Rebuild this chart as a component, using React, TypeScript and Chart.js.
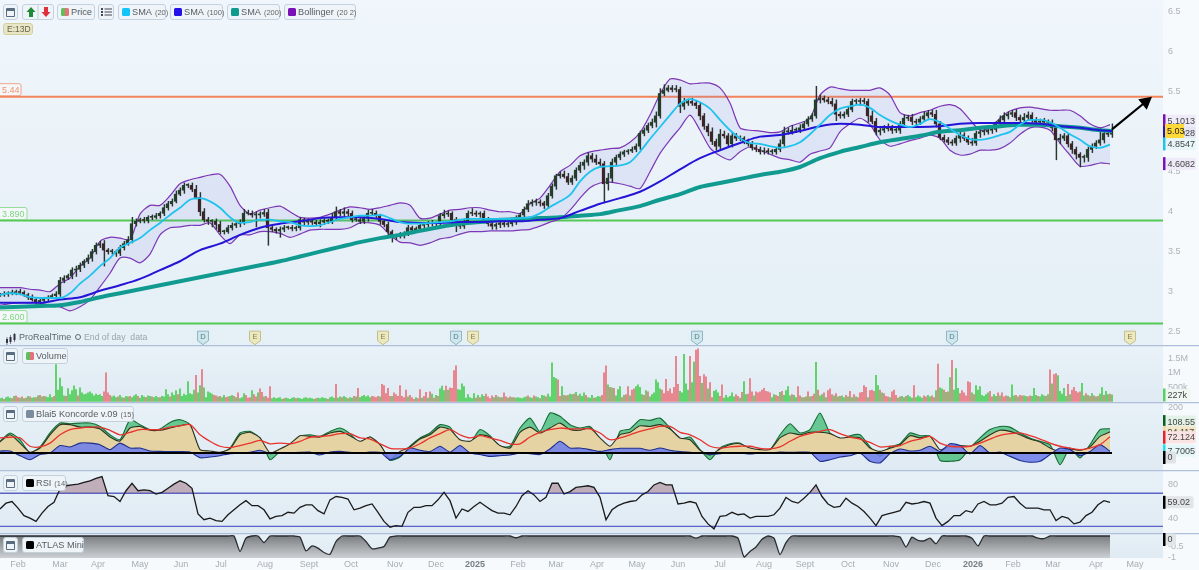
import React, { useEffect, useRef } from "react";
import { Chart, registerables } from "chart.js";
Chart.register(...registerables);

const FONT = "'Liberation Sans', Arial, sans-serif";
const LAST_BAR = 556;
const AXIS_END = 581.5;

const monthLabels = ["Feb","Mar","Apr","May","Jun","Jul","Aug","Sept","Oct","Nov","Dec","2025","Feb","Mar","Apr","May","Jun","Jul","Aug","Sept","Oct","Nov","Dec","2026","Feb","Mar","Apr","May"];
const monthBars = [9,30,49,70,90.5,110.5,132.5,154.5,175.5,197.5,218,237.5,259,278,298.5,318.5,339,360,382,402.5,424,445.5,466.5,486.5,506.5,526.5,548,567.5];

const priceTicks = [6.5,6,5.5,5,4.5,4,3.5,3,2.5];
const levels = [5.44,3.89,2.6];
const levelLabels = ["5.44","3.890","2.600"];
const eventBars = [101.5,127.5,191.5,228,236.5,348.5,476,565];
const eventKinds = ["D","E","E","D","E","D","D","E"];

// closes, one every 2 trading days
const closes = [
2.96,2.97,2.98,2.98,3.0,2.99,2.96,2.93,2.90,2.87,2.89,2.91,2.93,2.95,2.97,3.14,3.17,3.2,3.27,3.28,3.33,3.38,3.42,3.5,3.58,
3.6,3.52,3.5,3.5,3.48,3.55,3.6,3.65,3.85,3.88,3.9,3.89,3.93,3.93,3.95,3.98,4.05,4.1,4.13,4.22,4.27,4.33,4.33,4.28,4.18,
4.0,3.9,3.88,3.88,3.84,3.75,3.75,3.8,3.83,3.85,3.87,3.98,3.98,3.96,3.96,3.97,3.99,3.8,3.78,3.76,3.78,3.8,3.8,3.79,3.8,
3.9,3.87,3.88,3.87,3.85,3.87,3.89,3.88,3.93,4.0,3.98,4.0,3.98,3.9,3.9,3.88,3.92,3.98,3.98,3.95,3.88,3.84,3.75,3.7,3.7,
3.71,3.73,3.8,3.77,3.79,3.83,3.84,3.86,3.85,3.85,3.95,3.97,3.98,3.9,3.85,3.82,3.88,3.98,3.98,3.97,3.98,3.88,3.85,3.82,3.84,
3.86,3.84,3.85,3.87,3.92,3.96,4.03,4.1,4.12,4.12,4.11,4.08,4.2,4.32,4.45,4.47,4.44,4.37,4.42,4.52,4.58,4.62,4.7,4.66,4.62,
4.6,4.35,4.42,4.62,4.68,4.72,4.75,4.76,4.78,4.82,4.98,5.02,5.08,5.12,5.2,5.48,5.52,5.55,5.53,5.53,5.32,5.36,5.38,5.36,5.33,
5.2,5.07,5.0,4.88,4.82,4.97,4.95,4.85,4.95,4.92,4.92,4.88,4.85,4.8,4.78,4.75,4.76,4.75,4.75,4.78,4.85,5.0,5.0,5.02,5.02,
5.05,5.1,5.16,5.2,5.4,5.42,5.4,5.38,5.35,5.22,5.2,5.22,5.28,5.38,5.38,5.39,5.38,5.2,5.13,5.0,
5.02,5.04,5.05,5.02,5.02,5.1,5.17,5.18,5.13,5.12,5.16,5.2,5.24,5.22,5.1,4.93,4.9,4.87,4.86,4.92,4.96,4.92,4.87,4.86,4.98,
5.0,5.0,5.02,5.03,5.1,5.15,5.2,5.22,5.24,5.18,5.15,5.18,5.21,5.15,5.12,5.13,5.12,5.12,5.05,4.9,4.92,4.95,4.85,4.78,4.72,
4.68,4.68,4.78,4.82,4.86,4.9,4.98,4.97,5.03];
const wickUp = [
2,3,2,4,2,3,2,2,3,2,3,2,2,2,3,4,3,2,3,4,3,2,4,3,3,
3,4,2,3,2,3,3,4,8,3,2,3,2,3,3,2,4,3,3,4,3,3,2,3,5,
6,4,3,2,3,4,2,3,3,2,3,5,4,3,4,3,4,4,3,2,3,3,2,3,2,
3,2,3,2,2,3,2,2,5,6,3,5,3,3,2,3,2,4,5,3,2,2,3,2,2,
3,2,3,2,2,3,2,2,3,2,3,5,3,2,3,2,3,3,6,3,2,3,5,3,2,
2,3,2,3,3,2,3,4,3,4,3,2,3,3,2,3,4,4,3,3,4,3,4,3,5,
4,3,6,4,3,3,2,2,3,3,3,3,3,4,5,6,7,3,3,5,3,6,3,4,3,
4,3,3,5,3,6,4,3,4,3,3,2,3,3,3,3,4,3,3,2,5,6,5,6,3,
4,3,3,3,17,4,3,3,4,5,3,3,4,3,3,3,3,3,6,4,3,4,5,3,3,
3,4,3,4,3,3,5,3,3,5,3,3,3,3,3,4,3,3,5,3,4,5,6,5,3,
5,4,3,3,4,3,5,4,3,3,3,4,3,3,4,5,3,3,3,3,2,3,3,3,3,
15,3,3,7];
const wickDown = [
2,2,3,2,2,3,2,3,2,3,2,2,3,2,2,3,3,2,4,8,3,3,3,4,3,
3,20,3,3,4,3,3,2,4,3,2,3,3,3,2,3,3,3,3,2,2,4,3,3,2,
5,3,4,7,6,3,3,2,3,3,4,3,2,3,15,4,3,22,3,3,8,3,2,3,3,
3,4,3,3,2,4,3,3,3,3,3,4,3,3,2,3,3,4,3,3,4,3,4,8,5,
3,4,3,2,3,3,3,3,3,3,3,3,3,4,10,3,3,3,3,3,4,2,3,4,4,
4,3,3,3,3,3,5,3,3,4,4,4,4,3,4,3,2,3,3,3,3,5,4,4,3,
4,24,8,5,3,3,3,3,2,3,4,3,3,3,6,3,3,2,3,3,8,4,3,3,4,
5,4,5,4,5,3,3,3,4,3,3,3,3,3,3,3,3,3,3,3,3,3,3,3,3,
3,3,3,3,3,4,3,3,3,8,3,3,3,3,3,5,3,8,3,4,4,3,3,4,3,
4,3,3,4,5,3,3,3,3,4,3,3,3,3,3,5,3,3,3,3,5,4,3,4,3,
3,3,4,3,4,3,5,3,3,4,3,3,4,4,25,5,3,4,5,6,12,6,5,4,3,
3,4,3,4];

// every 10 trading days
const sma200 = [2.80,2.81,2.82,2.83,2.87,2.93,2.98,3.03,3.08,3.13,3.18,3.23,3.28,3.33,3.38,3.44,3.50,3.56,3.62,3.67,3.71,3.76,3.81,3.85,3.87,3.90,3.91,3.92,3.93,3.95,3.97,4.02,4.07,4.15,4.22,4.31,4.36,4.41,4.46,4.50,4.56,4.67,4.75,4.81,4.87,4.91,4.95,5.0,5.02,5.05,5.07,5.09,5.09,5.07,5.05,5.02,5.01];
const sma100 = [2.86,2.86,2.86,2.90,2.93,3.01,3.08,3.16,3.27,3.38,3.52,3.60,3.71,3.80,3.85,3.88,3.92,3.93,3.93,3.91,3.87,3.86,3.86,3.87,3.87,3.88,3.88,3.90,3.92,4.01,4.10,4.17,4.25,4.38,4.53,4.67,4.77,4.86,4.94,4.96,5.01,5.07,5.10,5.09,5.06,5.06,5.06,5.07,5.10,5.11,5.11,5.11,5.10,5.07,5.05,5.02,5.01];
// every 5 trading days
const sma20 = [2.96,2.98,2.97,2.93,2.92,2.92,2.92,2.98,3.10,3.20,3.32,3.42,3.55,3.61,3.67,3.77,3.86,3.96,4.05,4.15,4.17,4.13,4.05,3.93,3.86,3.87,3.90,3.90,3.88,3.87,3.83,3.82,3.83,3.87,3.91,3.93,3.95,3.95,3.96,3.92,3.87,
3.85,3.85,3.86,3.87,3.88,3.90,3.91,3.91,3.91,3.91,3.91,3.92,3.93,3.98,4.06,4.13,4.21,4.38,4.50,4.56,4.57,4.58,4.62,4.75,4.91,5.06,5.21,5.35,5.41,5.37,5.29,5.15,5.02,4.92,4.86,4.85,4.82,4.80,4.82,4.87,
4.97,5.09,5.21,5.29,5.32,5.34,5.30,5.21,5.14,5.09,5.06,5.10,5.16,5.12,5.04,4.96,4.91,4.90,4.92,4.96,5.0,5.09,5.15,5.15,5.12,5.05,4.97,4.90,4.82,4.80,4.84];
const bollUpper = [3.05,3.05,3.05,3.03,3.02,3.0,3.10,3.17,3.32,3.42,3.63,3.68,3.67,3.65,3.97,4.08,4.08,4.20,4.35,4.40,4.43,4.46,4.47,4.32,4.08,3.97,4.02,4.05,4.07,4.0,3.93,3.92,3.93,3.97,4.02,4.06,4.05,4.03,4.05,4.08,4.11,
4.08,3.92,3.92,3.97,4.02,4.03,4.05,4.05,4.02,4.0,4.0,3.98,4.10,4.17,4.33,4.50,4.58,4.70,4.75,4.77,4.79,4.80,4.87,4.99,5.21,5.47,5.66,5.65,5.60,5.61,5.61,5.55,5.36,5.05,5.02,5.01,4.99,5.0,5.07,5.11,
5.17,5.46,5.56,5.54,5.52,5.52,5.52,5.55,5.46,5.24,5.20,5.24,5.27,5.32,5.34,5.29,5.15,5.02,5.05,5.17,5.26,5.30,5.31,5.29,5.27,5.27,5.27,5.20,5.10,5.05,5.09];
const bollLower = [2.83,2.85,2.86,2.86,2.86,2.83,2.81,2.76,2.81,2.90,3.06,3.23,3.42,3.42,3.36,3.47,3.71,3.80,3.81,3.83,3.83,3.86,3.71,3.60,3.71,3.71,3.75,3.75,3.73,3.68,3.72,3.77,3.78,3.78,3.78,3.80,3.86,3.86,3.83,3.71,3.62,
3.61,3.58,3.61,3.66,3.68,3.72,3.75,3.75,3.76,3.76,3.76,3.77,3.78,3.82,3.87,3.91,4.02,4.17,4.30,4.36,4.37,4.35,4.32,4.29,4.50,4.73,4.90,5.05,5.21,5.02,4.80,4.70,4.65,4.75,4.81,4.77,4.72,4.67,4.65,4.62,
4.72,4.76,4.80,5.0,5.10,5.17,5.09,4.90,4.82,4.85,4.89,4.92,4.96,4.92,4.77,4.71,4.72,4.77,4.77,4.79,4.86,4.97,5.05,5.06,5.02,4.86,4.71,4.57,4.58,4.61,4.60];

// volume in tens of thousands; negative = down day, one per trading day
const volume10k = [
10,12,-8,14,16,12,-10,18,-20,-14,12,-16,10,-12,18,-16,12,14,-14,20,-22,16,-18,16,14,24,14,-18,129,40,82,52,20,-18,45,24,38,55,42,-20,48,30,24,26,30,34,28,20,26,22,
24,18,-34,-100,-30,-22,16,20,14,-16,22,14,-12,18,16,-18,14,20,24,-18,12,22,16,-14,20,18,-16,14,18,14,-14,18,16,42,24,-16,30,22,38,-24,44,18,26,22,70,28,24,40,-92,30,
56,-112,48,14,34,30,26,-22,-20,16,-18,14,22,-14,-16,18,22,-18,14,-30,10,14,28,-22,-12,-14,38,-24,-16,30,-44,-32,16,-18,-12,-52,10,14,10,12,14,8,-10,12,10,8,12,14,-10,12,
10,8,12,14,10,12,10,8,-10,12,10,14,12,10,-8,14,16,12,-60,12,16,-14,18,14,-10,14,12,-18,16,-46,14,18,22,16,20,14,-18,-16,-14,-18,16,-60,-56,-28,-46,-18,18,-30,-24,-18,
-56,-18,-14,-40,16,-22,-14,-8,14,-10,-42,12,-18,-32,12,-34,26,-12,22,-18,44,54,38,-54,40,-48,-46,-108,-125,42,40,62,52,12,24,14,10,28,-12,22,-14,24,18,-26,-16,-10,-20,14,-22,16,
-14,14,-30,-16,12,-16,14,-14,12,14,12,10,14,16,-20,14,12,-20,16,14,-10,22,20,-16,26,16,135,85,80,-76,-18,52,-22,20,-22,26,24,-26,32,-20,26,18,30,-22,14,12,22,-12,14,18,
16,-22,-100,-125,58,-50,48,-46,20,42,52,-14,22,-24,-52,20,-40,-44,52,58,50,24,-22,38,-34,16,24,30,76,66,44,-40,-28,-78,-36,-44,-28,-50,-158,-60,36,30,165,62,40,-158,66,138,-180,-184,
-88,64,-94,-86,44,-66,-14,36,40,30,-18,-58,12,22,14,18,30,16,-24,-18,12,-32,70,24,-26,-80,-34,20,-34,-30,-34,-40,-46,-36,-34,-30,14,24,-22,-18,32,-36,22,38,52,20,-24,22,14,-52,
-20,14,-14,16,-34,16,-18,-26,137,-40,20,24,-30,14,-38,-44,-24,20,-28,16,-18,20,14,-22,16,-36,14,-24,16,-14,-30,-32,-56,-50,14,-38,-40,-36,92,56,-40,30,-28,-18,-16,14,-34,-40,-22,12,
-16,18,14,-18,22,16,12,-56,14,20,16,12,-20,-16,22,16,-20,-14,38,-131,48,44,-40,32,-34,84,-144,40,115,46,-28,-38,-30,-20,-70,-66,30,-24,56,40,52,22,18,24,30,-36,-16,24,18,-30,
20,-30,-16,-20,18,-14,58,20,-22,16,-22,-20,20,18,-16,-20,18,46,22,-18,16,24,20,-18,24,-111,62,-94,-98,91,36,26,46,18,-60,24,-40,-50,-36,-30,-34,64,20,-28,22,-18,28,-20,16,-18,26,49,-22,36,24,-26,23];

// Koncorde, every 5 trading days
const konGreen = [52,89,59,0,27,89,133,130,133,133,118,81,59,148,126,104,107,136,148,126,7,4,0,22,89,96,67,-30,7,30,74,81,74,96,111,86,44,71,37,-33,
-18,30,67,89,126,115,44,44,104,77,30,30,111,155,96,178,163,126,111,118,59,-30,96,107,148,145,155,111,62,71,15,-30,22,
41,44,12,9,15,81,130,89,104,178,89,59,77,81,27,-15,27,41,89,77,74,-33,-37,-30,22,67,104,118,115,89,67,52,37,-52,22,-22,37,104,108];
const konBrown = [49,81,44,3,22,81,126,126,115,115,107,71,53,111,118,101,101,111,121,126,15,9,3,18,81,92,67,0,18,41,77,74,71,89,96,77,52,71,37,-27,
7,27,62,81,115,104,59,52,81,71,33,22,92,115,89,111,133,104,101,111,67,30,81,92,121,118,126,107,67,59,12,-9,18,
37,41,22,15,15,67,89,81,92,92,86,67,71,67,22,7,21,37,77,67,74,15,30,33,30,52,81,101,96,81,62,49,22,7,18,12,27,74,94];
const konBlue = [9,9,-12,-30,-7,0,33,27,44,44,37,15,44,22,22,9,7,6,6,4,-21,-18,-12,-3,0,3,12,-3,0,0,3,4,-9,4,7,3,0,4,3,-30,
-15,22,12,6,30,4,33,0,-7,-15,-12,-9,0,-3,-7,18,52,22,22,15,7,15,21,21,21,12,22,12,6,3,0,-6,-3,
0,0,-4,0,0,4,3,4,3,-37,-30,-18,-12,0,-37,-44,-3,18,9,12,30,7,41,33,-4,33,0,4,-15,-33,-41,-37,-7,22,15,-12,7,37,8];
const konRed = [67,70,67,30,27,44,81,104,111,115,115,101,81,92,104,104,104,115,121,126,81,52,30,24,33,44,56,41,44,41,52,70,74,77,86,86,67,62,41,21,
18,22,41,67,86,104,81,67,77,67,56,41,41,71,92,104,111,107,107,107,89,59,67,81,96,107,118,118,92,81,59,30,22,
27,30,30,21,18,27,52,74,86,96,104,86,71,62,47,27,30,33,52,62,74,44,30,27,30,44,62,78,86,89,77,62,44,30,22,15,22,37,72];

// RSI, every 3 trading days
const rsi = [51,58,60,52,43,40,36,46,54,59,75,79,80,81,83,85,88,90,67,66,60,73,82,73,74,73,69,71,76,81,85,82,76,45,38,40,37,36,44,50,56,61,55,55,50,39,42,43,47,46,53,56,56,49,45,62,66,65,63,50,52,55,57,47,36,29,31,
30,47,53,53,55,55,62,71,61,40,51,48,54,59,54,49,46,46,44,54,67,73,68,60,65,82,82,69,72,77,78,79,77,65,38,50,55,58,60,61,68,72,80,83,80,80,57,58,60,58,42,33,27,42,43,47,44,45,40,42,42,42,44,52,65,60,58,
64,71,80,66,57,53,54,64,58,54,48,40,31,43,45,47,49,59,57,58,60,58,40,31,36,43,43,49,47,57,60,56,56,58,
65,66,58,52,52,52,50,50,37,42,40,33,35,43,47,56,61,59];
const rsiBands = [70,30];

// ATLAS Mini, every 3 trading days
const atlas = [0,0,0,0,0,0,0,0,0,0,0,0,0,0,0,0,0,0,0,0,0,0,0,0,0,0,0,0,0,0,0,0,0,0,0,0,0,0,0,0,
-0.7,-0.1,0,0,-0.3,0,0,0,0,0,-0.05,-0.68,-0.45,-0.55,-0.75,-0.83,-0.25,0,0,0,0,-0.25,-0.58,-0.55,-0.48,-0.05,0,
0,0,0,0,0,0,0,0,0,0,0,0,0,0,0,0,0,0,0,-0.08,
0,0,0,0,0,0,0,0,0,0,0,0,0,0,0,0,0,0,0,0,0,0,0,0,0,0,0,0,0,-0.1,
0,0,0,0,0,0,-0.1,-0.95,-0.7,-0.5,-0.15,0,-0.1,-0.85,-0.3,
0,0,0,0,0,0,0,0,0,0,0,0,0,0,0,0,0,0,-0.05,-0.5,-0.05,-0.2,-0.22,-0.1,-0.35,
0,0,0,0,0,-0.1,-0.45,0,0,0,0,0,0,0,0,0,-0.1,-0.12,0,0,0,0,0,0,0,0,0,0,0];

const series = (values: number[], step: number) =>
  values.map((y, i) => ({ x: Math.min(i * step, LAST_BAR), y }));
const hline = (y: number, to = AXIS_END) => [{ x: 0, y }, { x: to, y }];

const zeroPad = (s: any) => { s.paddingTop = 0; s.paddingBottom = 0; s.paddingLeft = 0; s.paddingRight = 0; };

const rightAxis = (min: number, max: number, ticks: number[], fmt: (v: number) => string) => ({
  type: "linear", position: "right", min, max,
  afterBuildTicks: (s: any) => { s.ticks = ticks.map((value) => ({ value })); },
  afterFit: (s: any) => { s.width = 36; zeroPad(s); },
  ticks: { color: "#aab3bb", font: { size: 9, family: FONT }, padding: 5, autoSkip: false, maxRotation: 0, callback: (v: any) => fmt(Number(v)) },
  grid: { display: false, drawTicks: false }, border: { display: false },
});

const hiddenX = {
  type: "linear", min: 0, max: AXIS_END, offset: false, display: false, grid: { offset: false },
};

const paneBg = (top: string, bottom: string, sep: boolean) => ({
  id: "paneBg",
  beforeDraw(chart: any) {
    const { ctx, chartArea: a, width, height } = chart;
    ctx.save();
    ctx.fillStyle = "#f7fafc";
    ctx.fillRect(0, 0, width, height);
    const g = ctx.createLinearGradient(0, a.top, 0, a.bottom);
    g.addColorStop(0, top); g.addColorStop(1, bottom);
    ctx.fillStyle = g;
    ctx.fillRect(a.left, a.top, a.right - a.left, a.bottom - a.top);
    ctx.restore();
  },
  afterDraw(chart: any) {
    if (!sep) return;
    const { ctx, width } = chart;
    ctx.save();
    ctx.strokeStyle = "#aebfdc"; ctx.lineWidth = 1.2;
    ctx.beginPath(); ctx.moveTo(0, 0.6); ctx.lineTo(width, 0.6); ctx.stroke();
    ctx.restore();
  },
});

function drawTag(ctx: any, y: number, text: string, bar: string, bg: string, fg = "#444") {
  const x = 1163, h = 12;
  ctx.font = `9px ${FONT}`;
  const wide = Math.min(33, ctx.measureText(text).width + 8);
  ctx.fillStyle = bg;
  ctx.beginPath(); ctx.roundRect(x, y - h / 2, wide, h, 2); ctx.fill();
  ctx.fillStyle = bar;
  ctx.fillRect(x, y - h / 2 - 0.5, 2.5, h + 1);
  ctx.fillStyle = fg;
  ctx.textAlign = "left"; ctx.textBaseline = "middle";
  ctx.fillText(text, x + 4.5, y + 0.5);
}

const tagsPlugin = (scaleId: string, tags: [number, number, string, string, string][]) => ({
  id: "tags",
  afterDraw(chart: any) {
    const { ctx } = chart;
    const s = chart.scales[scaleId];
    ctx.save();
    for (const [v, dy, text, bar, bg] of tags) drawTag(ctx, s.getPixelForValue(v) + dy, text, bar, bg);
    ctx.restore();
  },
});

const priceExtras = {
  id: "priceExtras",
  afterDraw(chart: any) {
    const { ctx } = chart;
    const X = chart.scales.x, Y = chart.scales.y;
    ctx.save();
    const x0 = X.getPixelForValue(LAST_BAR), y0 = Y.getPixelForValue(5.03);
    const x1 = X.getPixelForValue(576), y1 = Y.getPixelForValue(5.44);
    const ang = Math.atan2(y1 - y0, x1 - x0);
    ctx.strokeStyle = "#000"; ctx.fillStyle = "#000"; ctx.lineWidth = 2.2;
    ctx.beginPath(); ctx.moveTo(x0, y0); ctx.lineTo(x1 - 8 * Math.cos(ang), y1 - 8 * Math.sin(ang)); ctx.stroke();
    ctx.beginPath(); ctx.moveTo(x1, y1);
    ctx.lineTo(x1 - 14 * Math.cos(ang - 0.5), y1 - 14 * Math.sin(ang - 0.5));
    ctx.lineTo(x1 - 14 * Math.cos(ang + 0.5), y1 - 14 * Math.sin(ang + 0.5));
    ctx.closePath(); ctx.fill();
    const colors = ["#f4916a", "#7fd67f", "#7fd67f"];
    ctx.font = `9px ${FONT}`; ctx.textBaseline = "middle"; ctx.textAlign = "left";
    levels.forEach((lv, i) => {
      const y = Y.getPixelForValue(lv);
      const w = levelLabels[i].length > 4 ? 27 : 21;
      ctx.fillStyle = "#f4f8fb"; ctx.strokeStyle = colors[i]; ctx.lineWidth = 0.8;
      ctx.beginPath(); ctx.roundRect(-2, y - 13, w + 2, 12, 2); ctx.fill(); ctx.stroke();
      ctx.fillStyle = colors[i];
      ctx.fillText(levelLabels[i], 2, y - 6.5);
    });
    const yM = Y.getPixelForValue(2.43);
    eventBars.forEach((b, i) => {
      const x = X.getPixelForValue(b);
      const d = eventKinds[i] === "D";
      ctx.fillStyle = d ? "#cfe6ea" : "#ece8bf";
      ctx.strokeStyle = d ? "#8db6c6" : "#c5c08a";
      ctx.lineWidth = 1;
      ctx.beginPath();
      ctx.moveTo(x - 5.5, yM - 6); ctx.lineTo(x + 5.5, yM - 6); ctx.lineTo(x + 5.5, yM + 3.5);
      ctx.lineTo(x, yM + 7.5); ctx.lineTo(x - 5.5, yM + 3.5); ctx.closePath();
      ctx.fill(); ctx.stroke();
      ctx.fillStyle = d ? "#4e7f8f" : "#85814a";
      ctx.font = `7.5px ${FONT}`; ctx.textAlign = "center"; ctx.textBaseline = "middle";
      ctx.fillText(eventKinds[i], x, yM - 0.5);
    });
    ctx.restore();
  },
};

const lineDs = (label: string, data: any[], color: string, width: number, extra: any = {}) => ({
  type: "line", label, data, borderColor: color, borderWidth: width, pointRadius: 0, tension: 0, fill: false, ...extra,
});

function buildPrice() {
  const opens = closes.map((c, i) => (i === 0 ? c : closes[i - 1]));
  const wicks = closes.map((c, i) => ({
    x: Math.min(i * 2, LAST_BAR),
    y: [Math.min(c, opens[i]) - wickDown[i] / 100, Math.max(c, opens[i]) + wickUp[i] / 100],
  }));
  const bodies = closes.map((c, i) => ({ x: Math.min(i * 2, LAST_BAR), y: [opens[i], c] }));
  const bodyColors = closes.map((c, i) => (c >= opens[i] ? "#24402a" : "#3f2226"));
  return {
    data: {
      datasets: [
        lineDs("5.44", hline(levels[0]), "#f4845a", 2, { order: 9 }),
        lineDs("3.89", hline(levels[1]), "#55c955", 2, { order: 9 }),
        lineDs("2.60", hline(levels[2]), "#55c955", 2, { order: 9 }),
        lineDs("Bollinger upper", series(bollUpper, 5), "#7d35b5", 1.2, { tension: 0.25, order: 8, fill: "+1", backgroundColor: "rgba(120,120,225,0.12)" }),
        lineDs("Bollinger lower", series(bollLower, 5), "#7d35b5", 1.2, { tension: 0.25, order: 8 }),
        { type: "bar", label: "wick", data: wicks, backgroundColor: "#2a3430", barThickness: 0.8, order: 5 },
        { type: "bar", label: "body", data: bodies, backgroundColor: bodyColors, barThickness: 1.8, minBarLength: 1, order: 4 },
        lineDs("SMA 200", series(sma200, 10), "#109a90", 4, { cubicInterpolationMode: "monotone", order: 3 }),
        lineDs("SMA 100", series(sma100, 10), "#2414d8", 2, { cubicInterpolationMode: "monotone", order: 2 }),
        lineDs("SMA 20", series(sma20, 5), "#1ec3ee", 1.8, { cubicInterpolationMode: "monotone", order: 1 }),
      ],
    },
    scales: {
      x: hiddenX,
      y: rightAxis(2.332, 6.65, priceTicks, (v) => String(v)),
    },
    plugins: [
      paneBg("#f0f6fb", "#e4eff6", false),
      priceExtras,
      tagsPlugin("y", [
        [5.1013, -3, "5.1013", "#7a10b8", "#efeaf7"],
        [5.0028, 1, "5.0028", "#2414d8", "#e4e6f4"],
        [4.8547, 0.5, "4.8547", "#1ec3ee", "#e8f6fa"],
        [4.6082, 0.5, "4.6082", "#7a10b8", "#efeaf7"],
      ]),
      {
        id: "lastPrice",
        afterDraw(chart: any) {
          const { ctx } = chart;
          const y = chart.scales.y.getPixelForValue(closes[closes.length - 1]) + 1.6;
          ctx.save();
          ctx.fillStyle = "#ffd83a";
          ctx.fillRect(1165, y - 7, 19, 14);
          ctx.fillStyle = "#222"; ctx.font = `9px ${FONT}`;
          ctx.textAlign = "left"; ctx.textBaseline = "middle";
          ctx.fillText(String(closes[closes.length - 1]), 1167, y + 0.5);
          ctx.restore();
        },
      },
    ],
  };
}

function buildVolume() {
  const bars = volume10k.map((v, i) => ({ x: i, y: Math.abs(v) }));
  const colors = volume10k.map((v) => (v >= 0 ? "#58d162" : "#e87f88"));
  return {
    data: { datasets: [{ type: "bar", label: "Volume", data: bars, backgroundColor: colors, barThickness: 1.2 }] },
    scales: {
      x: hiddenX,
      y: rightAxis(-1.75, 197.7, [50, 100, 150], (v) => (v >= 100 ? `${v / 100}M` : `${v * 10}k`)),
    },
    plugins: [
      paneBg("#e9f2f8", "#dfeaf3", true),
      tagsPlugin("y", [[22.7, 0, "227k", "#58d162", "#eef7f0"]]),
    ],
  };
}

function buildKoncorde() {
  const area = (label: string, vals: number[], stroke: string, fillColor: string, order: number) =>
    lineDs(label, series(vals, 5), stroke, 1.1, { tension: 0.2, order, fill: { target: { value: 0 } }, backgroundColor: fillColor });
  return {
    data: {
      datasets: [
        area("green", konGreen, "#166b34", "rgba(72,190,122,0.8)", 5),
        area("brown", konBrown, "#2c3320", "#e6d3a4", 4),
        area("blue", konBlue, "#1d2f8c", "rgba(112,128,235,0.88)", 3),
        lineDs("red", series(konRed, 5), "#e8322c", 1.3, { tension: 0.3, order: 2 }),
        lineDs("zero", hline(0, LAST_BAR), "#000", 1.8, { order: 1 }),
      ],
    },
    scales: {
      x: hiddenX,
      y: rightAxis(-75.6, 226.7, [200], (v) => String(v)),
    },
    plugins: [
      paneBg("#e7f1f7", "#dfeaf3", true),
      tagsPlugin("y", [
        [108.55, -7, "108.55", "#0d5a22", "#e3f2e6"],
        [94.117, 0.5, "94.117", "#f0d9a8", "#f3e6c8"],
        [72.124, 0.5, "72.124", "#e8222c", "#fae3e3"],
        [7.7005, -0.5, "7.7005", "#22e0e6", "#e5f7f8"],
        [0, 4.5, "0", "#000", "#dfe3e6"],
      ]),
    ],
  };
}

function buildRsi() {
  return {
    data: {
      datasets: [
        lineDs("70", hline(rsiBands[0]), "#5a64c8", 1.4, { order: 2 }),
        lineDs("30", hline(rsiBands[1]), "#5a64c8", 1.4, { order: 2 }),
        lineDs("RSI", series(rsi, 3), "#1a1a1a", 1.3, {
          order: 1,
          fill: { target: { value: rsiBands[0] }, above: "rgba(140,85,105,0.42)", below: "rgba(0,0,0,0)" },
        }),
      ],
    },
    scales: {
      x: hiddenX,
      y: rightAxis(22, 98, [80, 40], (v) => String(v)),
    },
    plugins: [
      paneBg("#e7f1f7", "#dfeaf3", true),
      tagsPlugin("y", [[59.02, 0, "59.02", "#000", "#e2e5e7"]]),
    ],
  };
}

function buildAtlas() {
  return {
    data: {
      datasets: [
        lineDs("ATLAS", series(atlas, 3), "#2a2d30", 1.3, {
          fill: "start",
          tension: 0.2,
          backgroundColor: (c: any) => {
            const { ctx, chartArea } = c.chart;
            if (!chartArea) return "#999";
            const g = ctx.createLinearGradient(0, chartArea.top, 0, chartArea.bottom);
            g.addColorStop(0, "#6f7376"); g.addColorStop(1, "#ccd0d4");
            return g;
          },
        }),
      ],
    },
    scales: {
      x: {
        type: "linear", min: 0, max: AXIS_END, offset: false, position: "bottom",
        afterBuildTicks: (s: any) => { s.ticks = monthBars.map((value) => ({ value })); },
        afterFit: (s: any) => { s.height = 12; zeroPad(s); },
        grid: { display: false, drawTicks: false }, border: { display: false },
        ticks: {
          autoSkip: false, maxRotation: 0, padding: 1,
          callback: (_v: any, i: number) => monthLabels[i],
          color: (c: any) => (/^20/.test(String(c.tick?.label)) ? "#767e86" : "#a5aeb6"),
          font: (c: any) => ({ size: 9, family: FONT, weight: /^20/.test(String(c.tick?.label)) ? "bold" : "normal" }),
        },
      },
      y: rightAxis(-1, 0.136, [-0.5, -1], (v) => String(v)),
    },
    plugins: [
      paneBg("#e7f1f7", "#dfeaf3", true),
      tagsPlugin("y", [[0, 3.5, "0", "#000", "#e2e5e7"]]),
    ],
  };
}

const panes = [
  { top: 0, height: 345, build: buildPrice },
  { top: 345, height: 57, build: buildVolume },
  { top: 402, height: 68, build: buildKoncorde },
  { top: 470, height: 63, build: buildRsi },
  { top: 533, height: 37, build: buildAtlas },
];

const btn = (left: number, top: number, width: number, height = 16): React.CSSProperties => ({
  position: "absolute", left, top, width, height, boxSizing: "border-box",
  border: "1px solid #c3d1dc", borderRadius: 3, background: "#eef4f8",
  font: `9.2px ${FONT}`, color: "#565d63", display: "flex", alignItems: "center", paddingLeft: 3, whiteSpace: "nowrap", gap: 2,
});
const swatch = (color: any): React.CSSProperties => ({ width: 8, height: 8, background: color, borderRadius: 1.5, flex: "none" });
const small: React.CSSProperties = { fontSize: 7.5, color: "#666", marginLeft: 1 };

const WinIcon = ({ left, top }: { left: number; top: number }) => (
  <div style={{ ...btn(left, top, 15), paddingLeft: 2 }}>
    <div style={{ width: 9, height: 9, border: "1px solid #5a6d80", borderTop: "3px solid #5a6d80", borderRadius: 1, boxSizing: "border-box" }} />
  </div>
);

const Legend = ({ left, top, width, color, name, param }: any) => (
  <div style={btn(left, top, width)}>
    <span style={swatch(color)} />
    <span>{name}</span>
    {param ? <span style={small}>{param}</span> : null}
  </div>
);

export default function App() {
  const refs = useRef<(HTMLCanvasElement | null)[]>([]);
  useEffect(() => {
    const charts = panes.map((p, i) => {
      const cfg: any = p.build();
      return new Chart(refs.current[i] as HTMLCanvasElement, {
        type: "line",
        data: cfg.data,
        options: {
          animation: false,
          responsive: false,
          layout: { padding: 0 },
          plugins: { legend: { display: false }, tooltip: { enabled: false }, title: { display: false } },
          scales: cfg.scales,
        } as any,
        plugins: cfg.plugins,
      } as any);
    });
    return () => charts.forEach((c) => c.destroy());
  }, []);

  const half = "linear-gradient(90deg,#5fbf5f 50%,#e8707a 50%)";
  return (
    <div style={{ position: "fixed", left: 0, top: 0, width: 1199, height: 570, overflow: "hidden" }}>
      {panes.map((p, i) => (
        <canvas key={i} ref={(el) => { refs.current[i] = el; }} width={1199} height={p.height}
          style={{ position: "absolute", left: 0, top: p.top, display: "block", width: 1199, height: p.height }} />
      ))}
      <WinIcon left={3} top={4} />
      <div style={{ ...btn(22, 4, 32), padding: 0 }}>
        <svg width="30" height="14" viewBox="0 0 30 14">
          <path d="M8 2 L12.5 7 L10 7 L10 12 L6 12 L6 7 L3.5 7 Z" fill="#1f8a3a" />
          <line x1="15" y1="0" x2="15" y2="14" stroke="#c3d1dc" />
          <path d="M23 12 L18.5 7 L21 7 L21 2 L25 2 L25 7 L27.5 7 Z" fill="#e0303c" />
        </svg>
      </div>
      <div style={btn(57, 4, 38)}><span style={swatch(half)} /><span>Price</span></div>
      <div style={{ ...btn(98, 4, 16), paddingLeft: 2 }}>
        <svg width="11" height="10" viewBox="0 0 11 10"><path d="M0 1h2v2H0zM0 4h2v2H0zM0 7h2v2H0zM3.5 1.4H11v1.2H3.5zM3.5 4.4H11v1.2H3.5zM3.5 7.4H11v1.2H3.5z" fill="#445" /></svg>
      </div>
      <Legend left={118} top={4} width={48} color="#12c4f8" name="SMA" param="(20)" />
      <Legend left={170} top={4} width={53} color="#2410e8" name="SMA" param="(100)" />
      <Legend left={227} top={4} width={53} color="#0f9a90" name="SMA" param="(200)" />
      <Legend left={284} top={4} width={72} color="#7a10b8" name="Bollinger" param="(20 2)" />
      <div style={{ ...btn(3, 23, 30, 12), background: "#e8e6c4", borderColor: "#d2cf9e", fontSize: 8.5, color: "#66644a" }}>E:13D</div>

      <div style={{ position: "absolute", left: 5, top: 331, width: 12, height: 12 }}>
        <svg width="12" height="12" viewBox="0 0 12 12"><path d="M1 6h2v4H1zM4.5 4h2v5h-2zM8.5 1h2v6h-2z" fill="#334" /><path d="M2 4v8M5.5 2v9M9.5 0v9" stroke="#334" strokeWidth="0.6" /></svg>
      </div>
      <div style={{ position: "absolute", left: 19, top: 332, font: `9px ${FONT}`, color: "#5b6670", whiteSpace: "nowrap" }}>ProRealTime</div>
      <div style={{ position: "absolute", left: 75, top: 334, width: 6, height: 6, border: "1px solid #667", borderRadius: "50%", boxSizing: "border-box" }} />
      <div style={{ position: "absolute", left: 84, top: 332, font: `8.7px ${FONT}`, color: "#9aa4ad", whiteSpace: "pre" }}>End of day  data</div>

      <WinIcon left={3} top={348} />
      <div style={btn(22, 348, 46)}><span style={swatch(half)} /><span>Volume</span></div>
      <WinIcon left={3} top={406} />
      <Legend left={22} top={406} width={112} color="#7a8ca0" name="Blai5 Koncorde v.09" param="(15)" />
      <WinIcon left={3} top={475} />
      <Legend left={22} top={475} width={44} color="#000" name="RSI" param="(14)" />
      <WinIcon left={3} top={537} />
      <Legend left={22} top={537} width={62} color="#000" name="ATLAS Mini" />
    </div>
  );
}
